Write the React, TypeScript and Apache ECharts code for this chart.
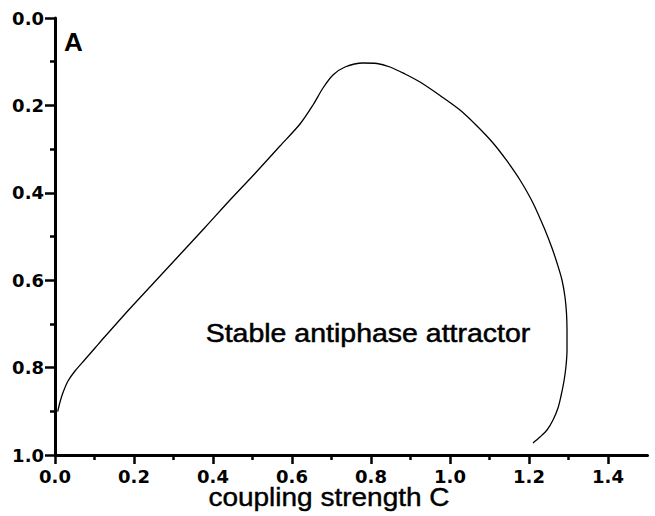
import React, { useEffect, useRef } from "react";
import * as echarts from "echarts";

const couplingC = [
  0.0068, 0.0127, 0.0203, 0.0329, 0.0506, 0.0759, 0.1013, 0.1266, 0.1899, 0.2532, 0.3165, 0.3797, 0.443,
  0.5063, 0.5696, 0.6203, 0.6532, 0.6785, 0.7038, 0.7342, 0.7797, 0.8152, 0.8481, 0.8861, 0.9241, 0.9747,
  1.0253, 1.0684, 1.1089, 1.1443, 1.1772, 1.2101, 1.2405, 1.2582, 1.2709, 1.2835, 1.2911, 1.2949, 1.2962,
  1.2962, 1.2937, 1.2886, 1.281, 1.2734, 1.2608, 1.2456, 1.2278, 1.2101,
];
const valueA = [
  0.9009, 0.8787, 0.857, 0.8307, 0.8078, 0.7815, 0.7551, 0.7288, 0.6648, 0.603, 0.5412, 0.4794, 0.4165,
  0.3558, 0.2929, 0.2426, 0.1991, 0.1602, 0.1304, 0.1121, 0.103, 0.1041, 0.1121, 0.1281, 0.1465, 0.1773,
  0.2105, 0.2471, 0.286, 0.3272, 0.3707, 0.4233, 0.4851, 0.5263, 0.5606, 0.5995, 0.6384, 0.6751, 0.714,
  0.7597, 0.7963, 0.8307, 0.865, 0.8924, 0.9199, 0.9428, 0.9588, 0.9725,
];

const xMajorTicks = [0, 0.2, 0.4, 0.6, 0.8, 1.0, 1.2, 1.4];
const xMinorTicks = [0.1, 0.3, 0.5, 0.7, 0.9, 1.1, 1.3];
const yMajorTicks = [0, 0.2, 0.4, 0.6, 0.8, 1.0];
const yMinorTicks = [0.1, 0.3, 0.5, 0.7, 0.9];

const xTitle = "coupling strength C";
const panelLabel = "A";
const regionLabel = "Stable antiphase attractor";

const FONT = "'Liberation Sans', Arial, Helvetica, sans-serif";
const LABEL_FONT = "'DejaVu Sans', sans-serif";

export default function App() {
  const ref = useRef<HTMLDivElement>(null);
  useEffect(() => {
    if (!ref.current) return;
    const chart = echarts.init(ref.current, null, { renderer: "svg" });
    const data = couplingC.map((c, i) => [c, valueA[i]]);
    const black = "#000";
    const labelStyle = {
      formatter: (v: number) => v.toFixed(1),
      color: black,
      fontFamily: LABEL_FONT,
      fontSize: 18,
      fontWeight: "bold",
    };
    chart.setOption({
      animation: false,
      backgroundColor: "#fff",
      grid: { left: 55, right: 7.5, top: 18, bottom: 61, containLabel: false },
      xAxis: [
        {
          type: "value",
          min: 0,
          max: 1.5,
          splitLine: { show: false },
          axisLine: { show: true, onZero: false, lineStyle: { color: black, width: 3 } },
          axisTick: { show: true, length: 9, lineStyle: { color: black, width: 2.5 }, customValues: xMajorTicks },
          axisLabel: { ...labelStyle, customValues: xMajorTicks, margin: 12 },
        },
        {
          type: "value",
          min: 0,
          max: 1.5,
          position: "bottom",
          splitLine: { show: false },
          axisLine: { show: false, onZero: false },
          axisTick: { show: true, length: 5, lineStyle: { color: black, width: 2.5 }, customValues: xMinorTicks },
          axisLabel: { show: false },
        },
      ],
      yAxis: [
        {
          type: "value",
          min: 0,
          max: 1,
          inverse: true,
          splitLine: { show: false },
          axisLine: { show: true, onZero: false, lineStyle: { color: black, width: 3 } },
          axisTick: { show: true, length: 10, lineStyle: { color: black, width: 2.5 }, customValues: yMajorTicks },
          axisLabel: { ...labelStyle, customValues: yMajorTicks, margin: 11 },
        },
        {
          type: "value",
          min: 0,
          max: 1,
          inverse: true,
          position: "left",
          splitLine: { show: false },
          axisLine: { show: false, onZero: false },
          axisTick: { show: true, length: 5, lineStyle: { color: black, width: 2.5 }, customValues: yMinorTicks },
          axisLabel: { show: false },
        },
      ],
      series: [
        {
          type: "line",
          data,
          xAxisIndex: 0,
          yAxisIndex: 0,
          smooth: 0.3,
          showSymbol: false,
          symbol: "none",
          lineStyle: { color: black, width: 1.3 },
        },
      ],
      graphic: [
        {
          type: "text",
          x: 64,
          y: 42,
          style: { text: panelLabel, font: `bold 26px ${FONT}`, fill: black, verticalAlign: "middle", align: "left" },
        },
        {
          type: "text",
          x: 368,
          y: 334,
          scaleX: 1.14,
          style: {
            text: regionLabel,
            font: `25px ${FONT}`,
            fill: black,
            stroke: black,
            lineWidth: 0.5,
            verticalAlign: "middle",
            align: "center",
          },
        },
        {
          type: "text",
          x: 329,
          y: 498,
          scaleX: 1.12,
          style: {
            text: xTitle,
            font: `25px ${FONT}`,
            fill: black,
            stroke: black,
            lineWidth: 0.4,
            verticalAlign: "middle",
            align: "center",
          },
        },
      ],
    });
    return () => chart.dispose();
  }, []);
  return (
    <div
      ref={ref}
      style={{ position: "fixed", left: 0, top: 0, width: 655, height: 516, background: "#fff" }}
    />
  );
}
